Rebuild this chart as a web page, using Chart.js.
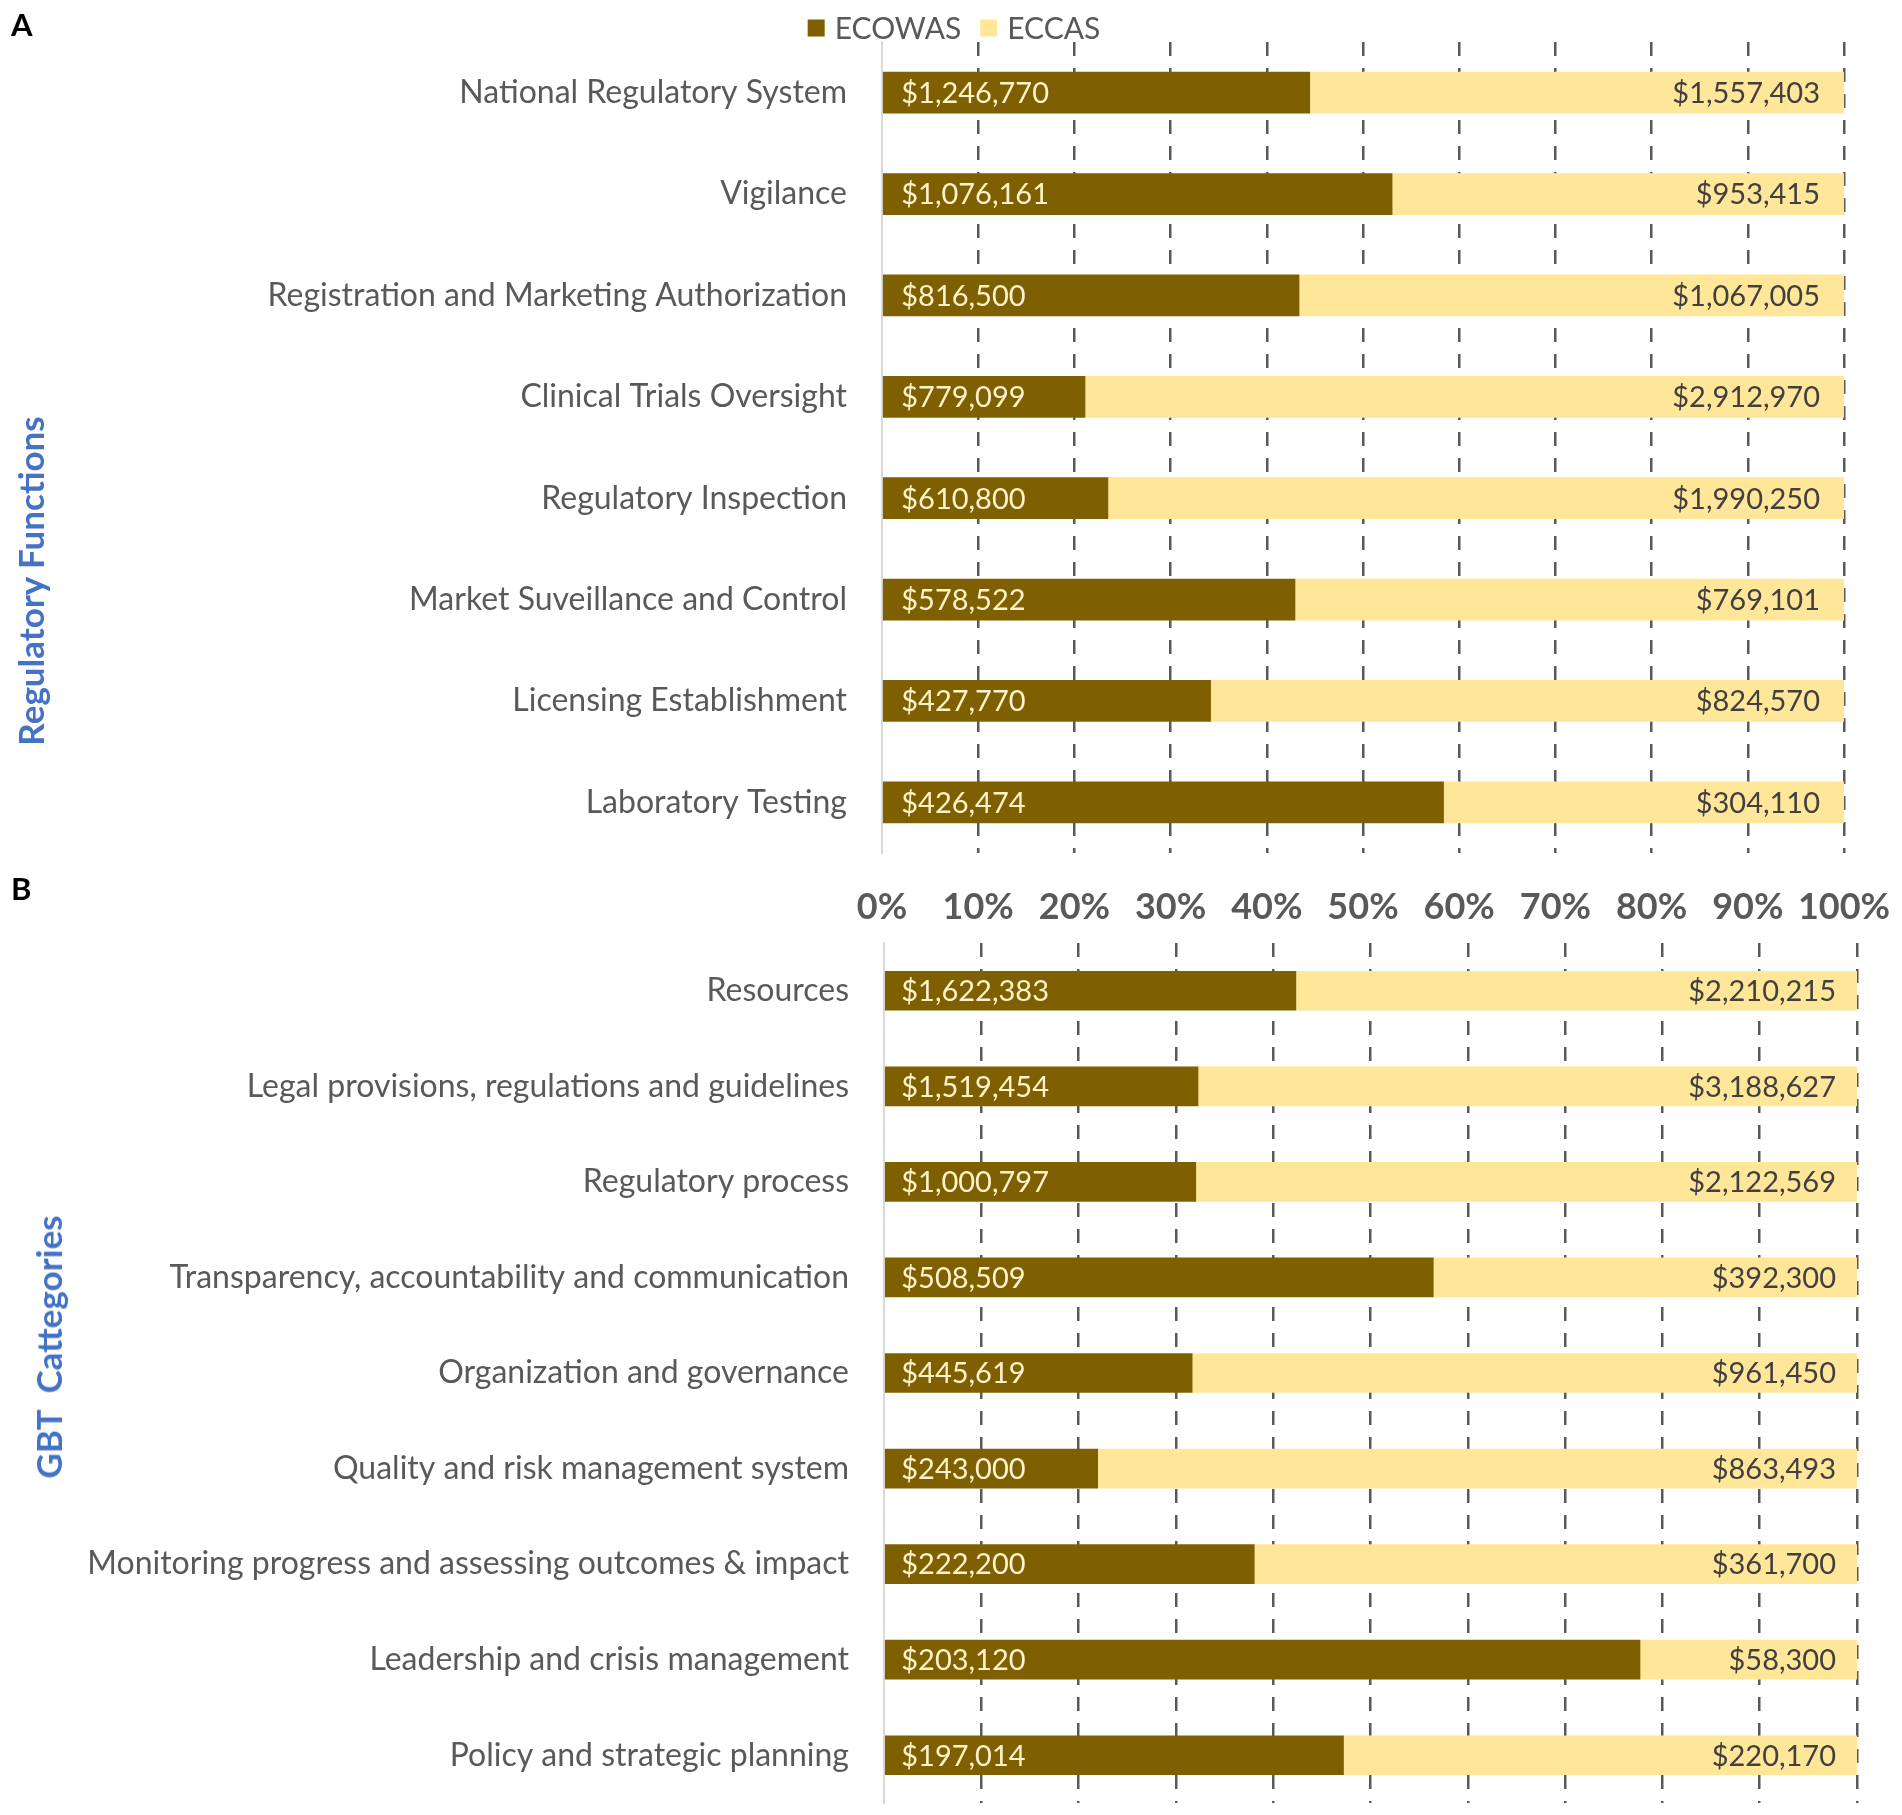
<!DOCTYPE html>
<html>
<head>
<meta charset="utf-8">
<script src="https://cdn.jsdelivr.net/npm/chart.js@4.4.0/dist/chart.umd.min.js"></script>
<style>
  body { margin: 0; background: #fff; width: 1902px; height: 1815px; position: relative; overflow: hidden; font-family: Lato, sans-serif; }
  canvas { position: absolute; left: 0; }
  #chartA { top: 0; }
  #chartB { top: 935px; }
  .panel { position: absolute; font: bold 31px Lato, sans-serif; color: #000; }
  .ytitle { position: absolute; font: bold 35px Lato, sans-serif; color: #4472C4; white-space: pre;
            transform: translate(-50%, -50%) rotate(-90deg); }
</style>
</head>
<body>
<canvas id="chartA" width="1902" height="935"></canvas>
<canvas id="chartB" width="1902" height="880"></canvas>
<div class="panel" style="left:11px; top:5px;">A</div>
<div class="panel" style="left:11px; top:869px;">B</div>
<div class="ytitle" style="left:30px; top:581px;">Regulatory Functions</div>
<div class="ytitle" style="left:48px; top:1347px;">GBT  Cattegories</div>

<script>
// Panel A: regulatory functions (USD)
const functionLabels = [
  'National Regulatory System', 'Vigilance', 'Registration and Marketing Authorization',
  'Clinical Trials Oversight', 'Regulatory Inspection', 'Market Suveillance and Control',
  'Licensing Establishment', 'Laboratory Testing'
];
const functionEcowas = [1246770, 1076161, 816500, 779099, 610800, 578522, 427770, 426474];
const functionEccas = [1557403, 953415, 1067005, 2912970, 1990250, 769101, 824570, 304110];

// Panel B: GBT categories (USD)
const gbtLabels = [
  'Resources', 'Legal provisions, regulations and guidelines', 'Regulatory process',
  'Transparency, accountability and communication', 'Organization and governance',
  'Quality and risk management system', 'Monitoring progress and assessing outcomes & impact',
  'Leadership and crisis management', 'Policy and strategic planning'
];
const gbtEcowas = [1622383, 1519454, 1000797, 508509, 445619, 243000, 222200, 203120, 197014];
const gbtEccas = [2210215, 3188627, 2122569, 392300, 961450, 863493, 361700, 58300, 220170];

const seriesNames = ['ECOWAS', 'ECCAS'];
const ECOWAS_COLOR = '#7F6000';
const ECCAS_COLOR = '#FFE699';
const GRAY = '#595959';

// share of each pair, in percent (100% stacked bars)
function share(a, b) {
  return a.map((v, i) => v / (v + b[i]) * 100);
}

// dollar labels inside the bars
const valueLabels = {
  id: 'valueLabels',
  afterDatasetsDraw(chart, args, opts) {
    const ctx = chart.ctx;
    ctx.save();
    ctx.font = '29px Lato, sans-serif';
    ctx.textBaseline = 'middle';
    chart.data.datasets.forEach((ds, di) => {
      chart.getDatasetMeta(di).data.forEach((bar, i) => {
        const txt = '$' + ds.amounts[i].toLocaleString('en-US');
        if (di === 0) {
          ctx.fillStyle = '#FFF2CC';
          ctx.textAlign = 'left';
          ctx.fillText(txt, bar.base + opts.left, bar.y + 1);
        } else {
          ctx.fillStyle = '#404040';
          ctx.textAlign = 'right';
          ctx.fillText(txt, bar.x - opts.right, bar.y + 1);
        }
      });
    });
    ctx.restore();
  }
};

// small legend above panel A
const topLegend = {
  id: 'topLegend',
  afterDraw(chart, args, opts) {
    if (!opts.show) return;
    const ctx = chart.ctx;
    ctx.save();
    ctx.font = '30px Lato, sans-serif';
    ctx.textBaseline = 'middle';
    ctx.textAlign = 'left';
    const box = 17, gap = 10, spacing = 19;
    const items = chart.data.datasets.map(d => ({ text: d.label, color: d.backgroundColor, w: ctx.measureText(d.label).width }));
    let total = 0;
    items.forEach((it, i) => { total += box + gap + it.w + (i ? spacing : 0); });
    let x = opts.cx - total / 2;
    items.forEach(it => {
      ctx.fillStyle = it.color;
      ctx.fillRect(x, opts.cy - box / 2, box, box);
      ctx.fillStyle = GRAY;
      ctx.fillText(it.text, x + box + gap, opts.cy + 1);
      x += box + gap + it.w + spacing;
    });
    ctx.restore();
  }
};

function makeChart(id, labels, ecowas, eccas, cfg) {
  return new Chart(document.getElementById(id), {
    type: 'bar',
    data: {
      labels: labels,
      datasets: [
        { label: seriesNames[0], data: share(ecowas, eccas), amounts: ecowas, backgroundColor: ECOWAS_COLOR, barThickness: cfg.bar },
        { label: seriesNames[1], data: share(eccas, ecowas), amounts: eccas, backgroundColor: ECCAS_COLOR, barThickness: cfg.bar }
      ]
    },
    options: {
      indexAxis: 'y',
      responsive: false,
      animation: false,
      devicePixelRatio: 1,
      layout: { padding: cfg.padding },
      plugins: {
        legend: { display: false },
        tooltip: { enabled: false },
        valueLabels: { left: cfg.labelLeft, right: cfg.labelRight },
        topLegend: { show: cfg.legend, cx: 954, cy: 28 }
      },
      scales: {
        x: {
          stacked: true,
          min: 0,
          max: 100,
          afterFit: s => { s.height = cfg.axisHeight; s.paddingLeft = 0; s.paddingRight = 0; },
          grid: {
            drawTicks: false,
            lineWidth: 2.5,
            color: c => c.index === 0 ? 'rgba(0,0,0,0)' : GRAY
          },
          border: { display: false, dash: [14, 12] },
          ticks: {
            display: cfg.showTicks,
            stepSize: 10,
            padding: 33,
            maxRotation: 0,
            minRotation: 0,
            autoSkip: false,
            color: GRAY,
            font: { family: 'Lato', size: 36, weight: 'bold' },
            callback: v => v + '%'
          }
        },
        y: {
          stacked: true,
          afterFit: s => { s.width = cfg.axisWidth; s.paddingTop = 0; s.paddingBottom = 0; },
          grid: { display: false, drawTicks: false },
          border: { display: true, color: '#D9D9D9', width: 2 },
          ticks: {
            padding: 35,
            color: GRAY,
            font: { family: 'Lato', size: 32 }
          }
        }
      }
    },
    plugins: [valueLabels, topLegend]
  });
}

makeChart('chartA', functionLabels, functionEcowas, functionEccas, {
  bar: 41, padding: { top: 42, bottom: 0, left: 0, right: 58 },
  axisHeight: 82, showTicks: true, axisWidth: 882,
  labelLeft: 18, labelRight: 24, legend: true
});

makeChart('chartB', gbtLabels, gbtEcowas, gbtEccas, {
  bar: 39, padding: { top: 8, bottom: 12, left: 0, right: 45 },
  axisHeight: 0, showTicks: false, axisWidth: 884,
  labelLeft: 16, labelRight: 21, legend: false
});
</script>
</body>
</html>
